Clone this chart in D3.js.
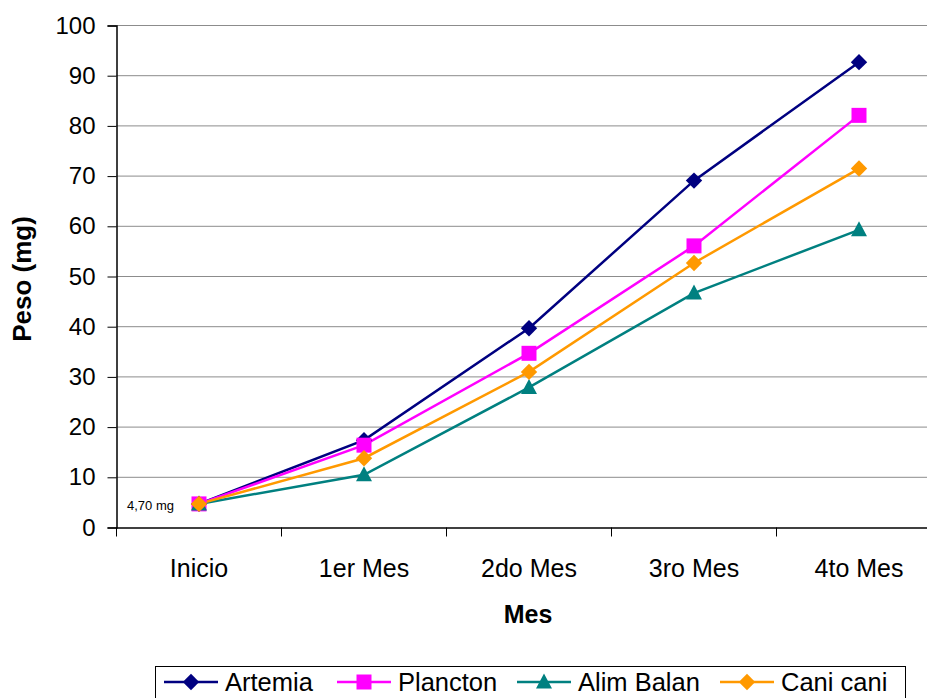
<!DOCTYPE html>
<html><head><meta charset="utf-8">
<script src="https://cdn.jsdelivr.net/npm/d3@7"></script>
<style>
html,body{margin:0;padding:0;background:#fff;}
text{font-family:"Liberation Sans",Arial,sans-serif;}
</style></head>
<body><svg id="c" width="927" height="698"></svg>
<script>
const categories = ["Inicio","1er Mes","2do Mes","3ro Mes","4to Mes"];
const seriesNames = ["Artemia","Plancton","Alim Balan","Cani cani"];
const artemia = [4.7, 17.4, 39.7, 69.1, 92.7];
const plancton = [4.7, 16.4, 34.7, 56.1, 82.1];
const alimBalan = [4.7, 10.5, 27.9, 46.7, 59.3];
const caniCani = [4.7, 13.8, 31.0, 52.7, 71.5];
const yTicks = [0,10,20,30,40,50,60,70,80,90,100];
const colors = ["#000080","#FF00FF","#008080","#FF9900"];
const symbols = ["diamond","square","triangle","diamond"];
const values = [artemia, plancton, alimBalan, caniCani];

const svg = d3.select("#c");
const pLeft = 116.5, pRight = 941.5, pTop = 25.5, pBottom = 527.5;
const x = d3.scaleBand().domain(categories).range([pLeft, pRight]);
const y = d3.scaleLinear().domain([0,100]).range([pBottom, pTop]);

// gridlines
svg.append("g").selectAll("line").data(yTicks.filter(d=>d>0)).join("line")
  .attr("x1", pLeft).attr("x2", 927).attr("y1", d=>y(d)).attr("y2", d=>y(d))
  .attr("stroke", "#8c8c8c").attr("stroke-width", 1);

// y axis
const yAxis = svg.append("g").attr("transform", `translate(${pLeft},0)`)
  .call(d3.axisLeft(y).tickValues(yTicks).tickSize(9).tickPadding(12));
yAxis.select(".domain").attr("stroke", "#000").attr("stroke-width", 1.5);
yAxis.selectAll(".tick line").attr("stroke", "#000");
yAxis.selectAll(".tick text").attr("font-size", 24).attr("fill", "#000")
  .attr("font-family", "'Liberation Sans',Arial,sans-serif");

// x axis
const xAxis = svg.append("g").attr("transform", `translate(0,${pBottom})`)
  .call(d3.axisBottom(x).tickSize(0).tickPadding(49));
xAxis.select(".domain").attr("stroke", "#000").attr("stroke-width", 1.5);
xAxis.selectAll(".tick text").attr("font-size", 25).attr("fill", "#000")
  .attr("font-family", "'Liberation Sans',Arial,sans-serif").attr("dy", "0");
// boundary ticks
const bounds = categories.map(c => x(c)).concat([pRight]);
svg.append("g").selectAll("line").data(bounds).join("line")
  .attr("x1", d=>d).attr("x2", d=>d).attr("y1", pBottom).attr("y2", pBottom+9)
  .attr("stroke", "#000").attr("stroke-width", 1);

// axis titles
svg.append("text").attr("x", (pLeft+pRight)/2 - 1).attr("y", 623)
  .attr("text-anchor", "middle").attr("font-weight", "bold").attr("font-size", 25).text("Mes");
svg.append("text").attr("transform", `translate(31,${279}) rotate(-90)`)
  .attr("text-anchor", "middle").attr("font-weight", "bold").attr("font-size", 26).text("Peso (mg)");

const cx = c => x(c) + x.bandwidth()/2;
const line = d3.line().x((d,i)=>cx(categories[i])).y(d=>y(d));

const markerPath = {
  diamond: "M0,-8.2L8.2,0L0,8.2L-8.2,0Z",
  square: "M-7.5,-7.5H7.5V7.5H-7.5Z",
  triangle: "M0,-8.5L8,6.5H-8Z"
};

values.forEach((vals, s) => {
  svg.append("path").datum(vals).attr("d", line)
    .attr("fill", "none").attr("stroke", colors[s]).attr("stroke-width", 2.5);
});
values.forEach((vals, s) => {
  svg.append("g").selectAll("path").data(vals).join("path")
    .attr("transform", (d,i)=>`translate(${cx(categories[i])},${y(d)})`)
    .attr("d", markerPath[symbols[s]])
    .attr("fill", colors[s]);
});

// data label
svg.append("text").attr("x", 127).attr("y", y(artemia[0]) + 6).attr("font-size", 13).text("4,70 mg");

// legend
const lg = svg.append("g");
lg.append("rect").attr("x", 155.5).attr("y", 666.5).attr("width", 750).attr("height", 40)
  .attr("fill", "#fff").attr("stroke", "#000").attr("stroke-width", 1);
const legX = [164, 337, 517, 720];
seriesNames.forEach((n, s) => {
  const g = lg.append("g").attr("transform", `translate(${legX[s]},682)`);
  g.append("line").attr("x1", 0).attr("x2", 54).attr("stroke", colors[s]).attr("stroke-width", 2.5);
  g.append("path").attr("transform", "translate(27,0)")
    .attr("d", markerPath[symbols[s]])
    .attr("fill", colors[s]);
  g.append("text").attr("x", 61).attr("y", 9).attr("font-size", 25.5).text(n);
});
</script></body></html>
